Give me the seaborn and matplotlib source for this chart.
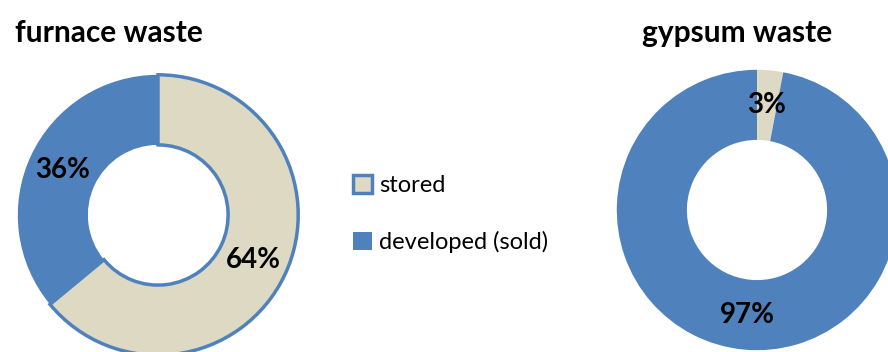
import matplotlib
matplotlib.use("Agg")
import matplotlib.pyplot as plt
from matplotlib.patches import Patch
import seaborn as sns

categories = ["stored", "developed (sold)"]
furnace_values = [64, 36]
gypsum_values = [3, 97]
titles = ["furnace waste", "gypsum waste"]

sns.set_theme(style="white")
plt.rcParams["font.family"] = ["Lato", "DejaVu Sans"]
plt.rcParams["text.color"] = "black"

colors = ["#DDD9C3", "#4F81BD"]
edge_blue = "#4F81BD"

W, H = 888, 352
fig = plt.figure(figsize=(W / 100, H / 100), dpi=100)

def add_axes_px(cx, cy, r):
    return fig.add_axes([(cx - r) / W, (H - cy - r) / H, 2 * r / W, 2 * r / H])

ax1 = add_axes_px(158, 215, 143)
ax2 = add_axes_px(757, 210, 143)

for ax, vals, edge in [(ax1, furnace_values, True), (ax2, gypsum_values, False)]:
    wedges, texts, autotexts = ax.pie(
        vals, colors=colors, startangle=90, counterclock=False,
        radius=1.0, pctdistance=0.75,
        autopct=lambda p: f"{p:.0f}%",
        wedgeprops=dict(width=0.5, linewidth=0),
        textprops=dict(fontsize=20, fontweight="bold", color="black"))
    if edge:
        wedges[0].set_edgecolor(edge_blue)
        wedges[0].set_linewidth(2.5)
    ax.set_xlim(-1.02, 1.02)
    ax.set_ylim(-1.02, 1.02)
    ax.set_aspect("equal")
    ax.axis("off")

fig.text(15 / W, 1 - 33 / H, titles[0], fontsize=21.5, fontweight="bold",
         ha="left", va="center")
fig.text(737 / W, 1 - 33 / H, titles[1], fontsize=21.5, fontweight="bold",
         ha="center", va="center")

handles = [Patch(facecolor=colors[0], edgecolor=edge_blue, linewidth=2.5),
           Patch(facecolor=colors[1], edgecolor=colors[1], linewidth=0)]
fig.legend(handles, categories, loc="center left",
           bbox_to_anchor=(341 / W, 1 - 214 / H), frameon=False, borderpad=0,
           fontsize=17, handlelength=0.8, handleheight=0.8,
           handletextpad=0.3, labelspacing=1.45)

fig.savefig("out.png", dpi=100)
